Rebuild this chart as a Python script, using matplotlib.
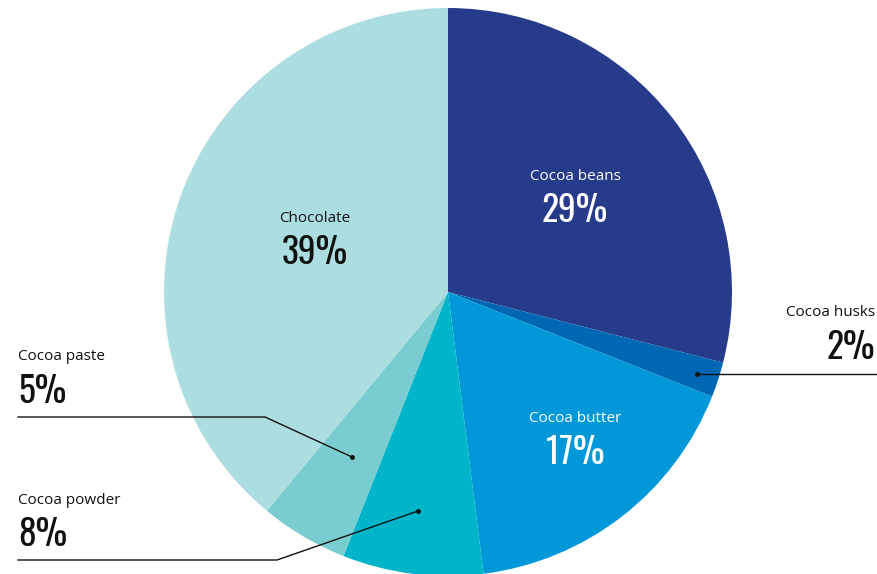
import matplotlib
matplotlib.use("Agg")
import matplotlib.pyplot as plt

labels = ["Cocoa beans", "Cocoa husks", "Cocoa butter", "Cocoa powder", "Cocoa paste", "Chocolate"]
values = [29, 2, 17, 8, 5, 39]
colors = ["#263b8a", "#0067b4", "#0098d9", "#00b4c9", "#79cdd0", "#acdde0"]

pct_font = ["Oswald", "Antonio", "Liberation Sans Narrow", "DejaVu Sans"]
label_font = ["Open Sans", "DejaVu Sans"]

W, H = 877, 574
fig = plt.figure(figsize=(W / 100, H / 100), dpi=100)
ax = fig.add_axes([0, 0, 1, 1])

cx, cy, r = 448, H - 292, 284
ax.pie(values, colors=colors, startangle=90, counterclock=False, radius=r,
       center=(cx, cy), wedgeprops=dict(linewidth=0), frame=True)
ax.set_xlim(0, W)
ax.set_ylim(0, H)
ax.set_aspect("equal")
ax.axis("off")

def Y(py):
    return H - py

def lab(x, py, name, pct, color, ha="center"):
    ax.text(x, Y(py), name, fontsize=11, family=label_font, color=color,
            ha=ha, va="center")
    ax.text(x, Y(py + 35), f"{pct}%", fontsize=25.5, family=pct_font, weight="semibold",
            color=color, ha=ha, va="center")

lab(575, 176, labels[0], values[0], "white")
lab(575, 418, labels[2], values[2], "white")
lab(315, 218, labels[5], values[5], "#111111")
lab(875, 313, labels[1], values[1], "#111111", ha="right")
lab(18, 357, labels[4], values[4], "#111111", ha="left")
lab(18, 500, labels[3], values[3], "#111111", ha="left")

lw = 1.0
# husks leader
ax.plot([697, 877], [Y(374), Y(374)], color="#111111", lw=lw)
ax.plot([697], [Y(374)], "o", color="#111111", ms=2.5)
# paste leader
ax.plot([18, 265, 352], [Y(417), Y(417), Y(457)], color="#111111", lw=lw)
ax.plot([352], [Y(457)], "o", color="#111111", ms=2.5)
# powder leader
ax.plot([18, 277, 418], [Y(560), Y(560), Y(511)], color="#111111", lw=lw)
ax.plot([418], [Y(511)], "o", color="#111111", ms=2.5)

fig.savefig("out.png", dpi=100)
